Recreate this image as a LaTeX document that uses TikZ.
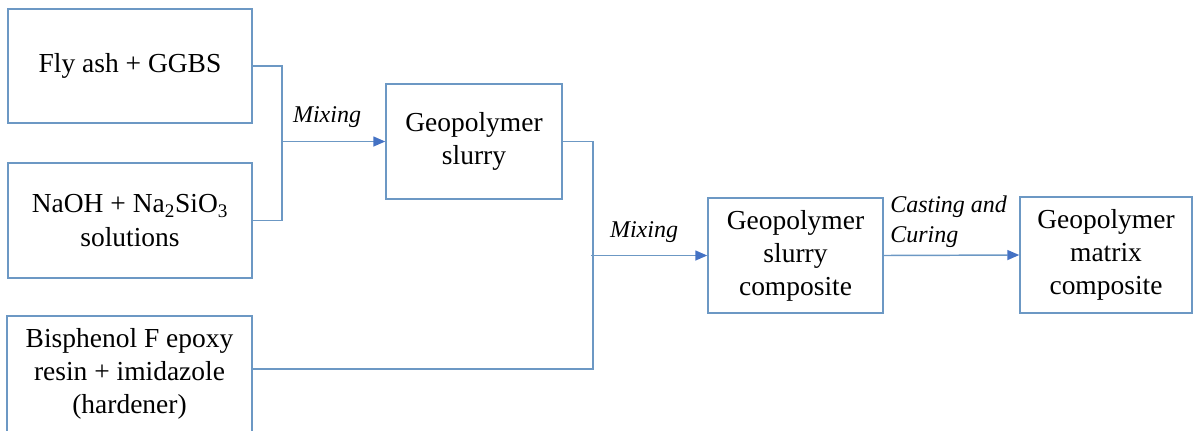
\documentclass[tikz,border=0pt]{standalone}
\usepackage{fontspec}
\setmainfont{Liberation Serif}
\usetikzlibrary{arrows.meta}
\definecolor{boxcol}{RGB}{108,152,196}
\definecolor{tipcol}{RGB}{68,114,196}
\tikzset{
  procbox/.style={draw=boxcol, line width=1.1pt, rectangle, inner sep=0pt,
    align=center, font=\fontsize{20.6}{24.8}\selectfont},
  conn/.style={draw=boxcol, line width=1.1pt},
  arr/.style={conn, -{Triangle[length=9pt,width=7.5pt,color=tipcol]}},
  lbl/.style={font=\fontsize{18}{22.5}\selectfont\itshape, inner sep=0pt}
}
\begin{document}
\begin{tikzpicture}[x=0.75pt,y=-0.75pt]
\useasboundingbox (0,0) rectangle (1195,430);
\node[procbox, minimum width=244*0.75pt, minimum height=114*0.75pt] (b1) at (130,66) {Fly ash + GGBS};
\node[procbox, minimum width=244*0.75pt, minimum height=115*0.75pt] (b2) at (130,220.5) {NaOH + Na\textsubscript{2}SiO\textsubscript{3}\\solutions};
\node[procbox, minimum width=245*0.75pt, minimum height=116*0.75pt] (b3) at (129.5,374) {Bisphenol F epoxy\\resin + imidazole\\(hardener)};
\node[procbox, minimum width=176*0.75pt, minimum height=115*0.75pt] (b4) at (474,141.5) {Geopolymer\\slurry};
\node[procbox, minimum width=175*0.75pt, minimum height=115*0.75pt] (b5) at (795.5,255.5) {Geopolymer\\slurry\\composite};
\node[procbox, minimum width=172*0.75pt, minimum height=116*0.75pt] (b6) at (1106,255) {Geopolymer\\matrix\\composite};

\coordinate (j1) at (282,141.5);
\coordinate (j2top) at (593,141.5);
\coordinate (j2bot) at (593,369);
\coordinate (j2mid) at (591,255.5);

\draw[conn] (b1.east) -| (j1) |- (b2.east);
\draw[arr] (j1) -- (b4.west);
\draw[conn] (b4.east) -- (j2top) -- (j2bot) -- (b3.east |- j2bot);
\draw[arr] (j2mid) -- (b5.west);
\draw[arr] (b5.east) -- (b6.west);

\node[lbl] (m1) at (327,117) {Mixing};
\node[lbl] (m2) at (644,232) {Mixing};
\node[lbl, anchor=west, align=left] (m3) at (890,222) {Casting and\\Curing};
\end{tikzpicture}
\end{document}
